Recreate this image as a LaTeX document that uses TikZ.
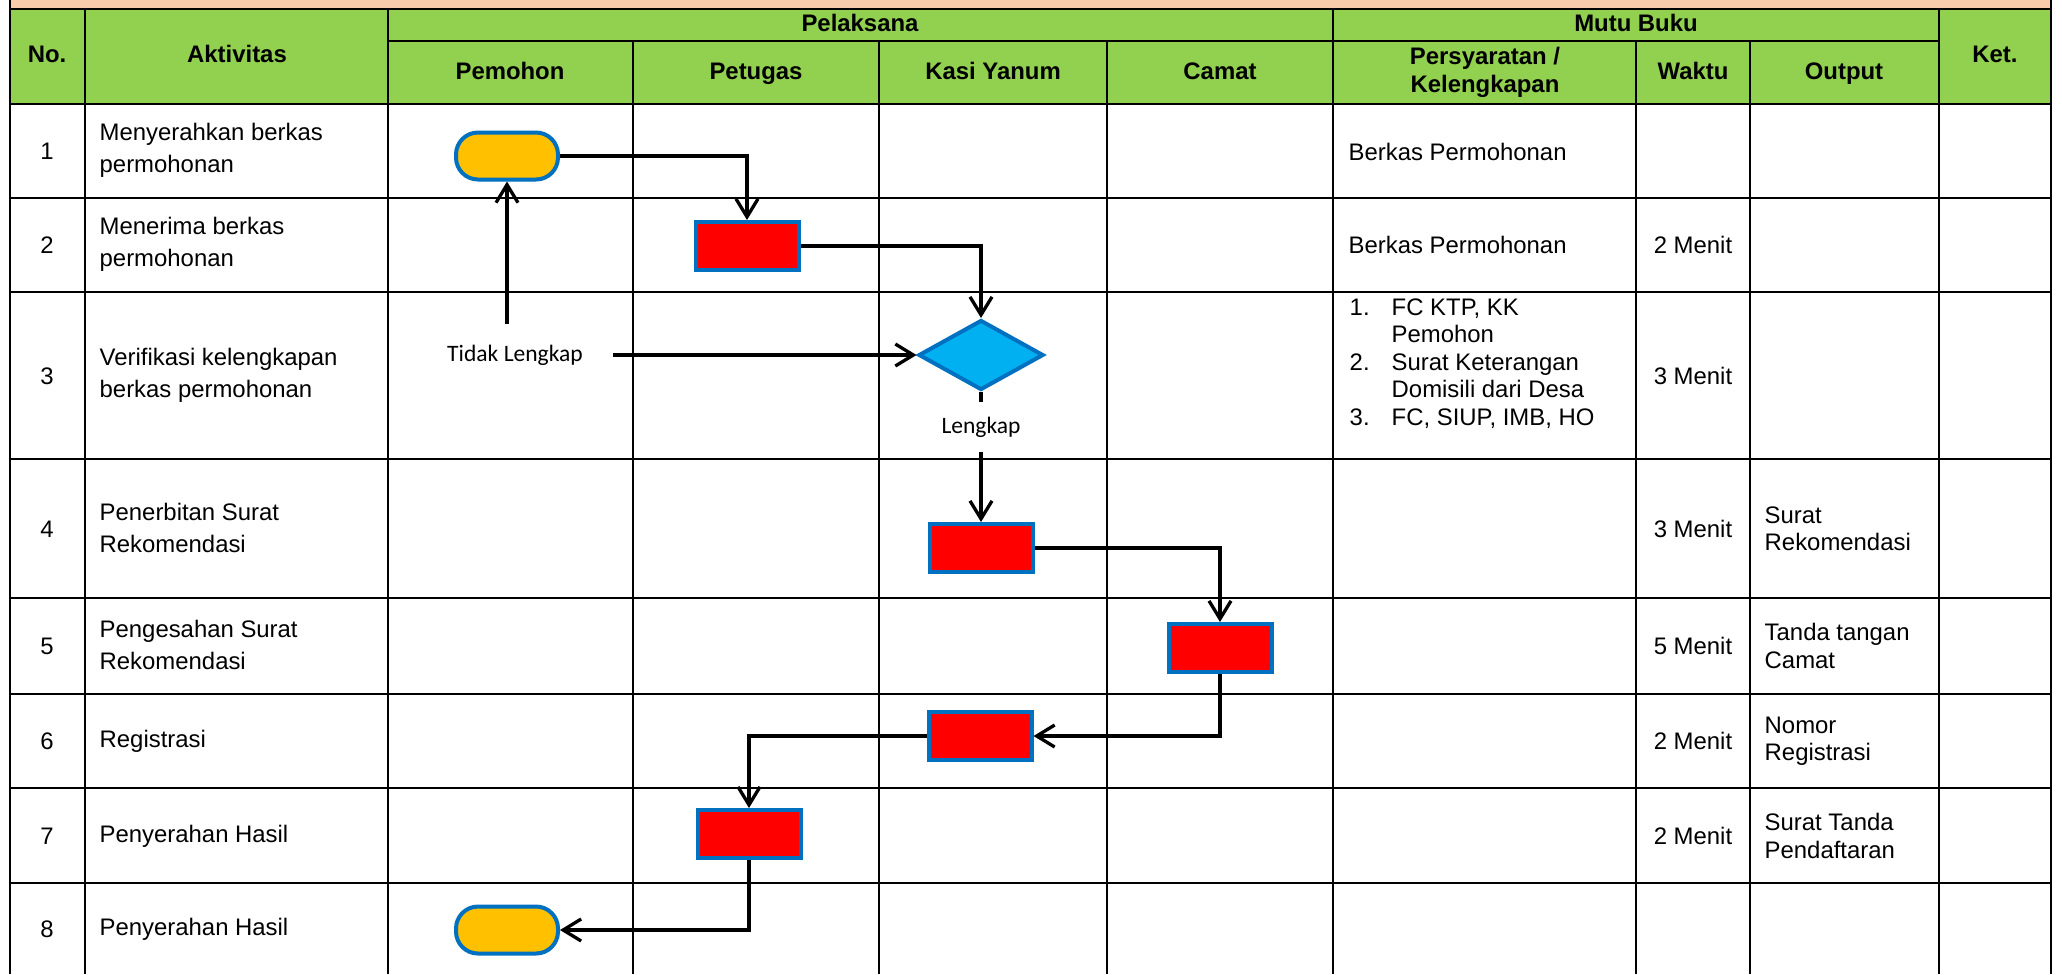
\documentclass[tikz,border=0pt]{standalone}
\usepackage{fontspec}
\setmainfont{Liberation Sans}
\newfontfamily\lblfont{Carlito}
\usetikzlibrary{arrows.meta, shapes.geometric}

\definecolor{peach}{HTML}{F8CBAD}
\definecolor{hijau}{HTML}{92D050}
\definecolor{kuning}{HTML}{FFC000}
\definecolor{biru}{HTML}{0070C0}
\definecolor{langit}{HTML}{00B0F0}
\definecolor{merah}{HTML}{FF0000}

\begin{document}
\begin{tikzpicture}[x=0.1mm, y=-0.1mm, >={Straight Barb[length=1.8mm, width=2.2mm]},
    font=\fontsize{6.8}{9}\selectfont]
    \useasboundingbox (0,0) rectangle (2062,974);

    \tikzstyle{grid} = [line width=0.25mm]
    \tikzstyle{head} = [font=\fontsize{6.8}{7.9}\selectfont\bfseries, align=center]
    \tikzstyle{head1} = [head, text height=1.75mm, text depth=0.45mm]
    \tikzstyle{akt} = [anchor=west, align=left, inner sep=0pt]
    \tikzstyle{isi} = [anchor=west, align=left, inner sep=0pt, font=\fontsize{6.8}{7.8}\selectfont]
    \tikzstyle{term} = [draw=biru, line width=0.4mm, fill=kuning, rounded corners=2.2mm,
        minimum width=10.2mm, minimum height=4.7mm]
    \tikzstyle{proses} = [draw=biru, line width=0.4mm, fill=merah, minimum width=10.3mm, minimum height=4.8mm]
    \tikzstyle{cabang} = [diamond, draw=biru, line width=0.4mm, fill=langit, inner sep=0pt,
        minimum width=12.5mm, minimum height=7mm]
    \tikzstyle{lbl} = [font=\lblfont\fontsize{6.7}{8}\selectfont]
    \tikzstyle{alur} = [->, line width=0.33mm]

    % header background
    \fill[peach] (10,0) rectangle (2051,9);
    \fill[hijau] (10,9) rectangle (2051,104);

    % table lines
    \draw[grid] (10,0) -- (10,974) (2051,0) -- (2051,974);
    \draw[grid] (10,9) -- (2051,9) (388,41) -- (1939,41) (10,104) -- (2051,104);
    \draw[grid] (10,198) -- (2051,198) (10,292) -- (2051,292) (10,459) -- (2051,459)
        (10,598) -- (2051,598) (10,694) -- (2051,694) (10,788) -- (2051,788) (10,883) -- (2051,883);
    \draw[grid] (85,9) -- (85,974) (388,9) -- (388,974) (1333,9) -- (1333,974) (1939,9) -- (1939,974);
    \draw[grid] (633,41) -- (633,974) (879,41) -- (879,974) (1107,41) -- (1107,974)
        (1636,41) -- (1636,974) (1750,41) -- (1750,974);

    % column heads
    \node[head1] (hNo) at (47,56) {No.};
    \node[head1] (hAkt) at (237,56) {Aktivitas};
    \node[head1] (hPel) at (860,25) {Pelaksana};
    \node[head1] (hPemohon) at (510,73) {Pemohon};
    \node[head1] (hPetugas) at (756,73) {Petugas};
    \node[head1] (hKasi) at (993,73) {Kasi Yanum};
    \node[head1] (hCamat) at (1220,73) {Camat};
    \node[head1] (hMutu) at (1636,25) {Mutu Buku};
    \node[head] (hSyarat) at (1485,72) {Persyaratan /\\Kelengkapan};
    \node[head1] (hWaktu) at (1693,73) {Waktu};
    \node[head1] (hOutput) at (1844,73) {Output};
    \node[head1] (hKet) at (1995,56) {Ket.};

    % nomor dan aktivitas
    \node (no1) at (47,151) {1};
    \node (no2) at (47,245) {2};
    \node (no3) at (47,376) {3};
    \node (no4) at (47,529) {4};
    \node (no5) at (47,646) {5};
    \node (no6) at (47,741) {6};
    \node (no7) at (47,836) {7};
    \node (no8) at (47,929) {8};

    \node[akt] (akt1) at (99,150) {Menyerahkan berkas\\permohonan};
    \node[akt] (akt2) at (99,244) {Menerima berkas\\permohonan};
    \node[akt] (akt3) at (99,375) {Verifikasi kelengkapan\\berkas permohonan};
    \node[akt] (akt4) at (99,528) {Penerbitan Surat\\Rekomendasi};
    \node[akt] (akt5) at (99,645) {Pengesahan Surat\\Rekomendasi};
    \node[akt] (akt6) at (99,741) {Registrasi};
    \node[akt] (akt7) at (99,836) {Penyerahan Hasil};
    \node[akt] (akt8) at (99,929) {Penyerahan Hasil};

    % mutu buku
    \node[isi] (syarat1) at (1348,152) {Berkas Permohonan};
    \node[isi] (syarat2) at (1348,245) {Berkas Permohonan};
    \node[isi, anchor=north west] (syarat3) at (1349,298)
        {\makebox[4.2mm][l]{1.}FC KTP, KK\\\hspace*{4.2mm}Pemohon\\
         \makebox[4.2mm][l]{2.}Surat Keterangan\\\hspace*{4.2mm}Domisili dari Desa\\
         \makebox[4.2mm][l]{3.}FC, SIUP, IMB, HO};

    \node (waktu2) at (1693,245) {2 Menit};
    \node (waktu3) at (1693,376) {3 Menit};
    \node (waktu4) at (1693,529) {3 Menit};
    \node (waktu5) at (1693,646) {5 Menit};
    \node (waktu6) at (1693,741) {2 Menit};
    \node (waktu7) at (1693,836) {2 Menit};

    \node[isi] (out4) at (1764,529) {Surat\\Rekomendasi};
    \node[isi] (out5) at (1764,646) {Tanda tangan\\Camat};
    \node[isi] (out6) at (1764,741) {Nomor\\Registrasi};
    \node[isi] (out7) at (1764,836) {Surat Tanda\\Pendaftaran};

    % alur
    \node[term] (mulai) at (507,156) {};
    \node[proses] (terima) at (747,246) {};
    \node[cabang] (cek) at (981,355) {};
    \node[proses] (terbit) at (981,548) {};
    \node[proses] (sah) at (1220,648) {};
    \node[proses] (reg) at (980,736) {};
    \node[proses] (serah) at (749,834) {};
    \node[term] (selesai) at (507,930) {};

    \node[lbl, inner xsep=2.9mm, inner ysep=2mm] (tidak) at (515,355) {Tidak Lengkap};
    \node[lbl, inner ysep=1.4mm] (lengkap) at (981,427) {Lengkap};

    \draw[alur] (mulai) -| (terima);
    \draw[alur] (terima) -| (cek);
    \draw[line width=0.33mm] (cek) -- (lengkap);
    \draw[alur] (lengkap) -- (terbit);
    \draw[alur] (tidak) -- (cek);
    \draw[alur] (tidak.north -| mulai) -- (mulai);
    \draw[alur] (terbit) -| (sah);
    \draw[alur] (sah) |- (reg);
    \draw[alur] (reg) -| (serah);
    \draw[alur] (serah) |- (selesai);
\end{tikzpicture}
\end{document}
